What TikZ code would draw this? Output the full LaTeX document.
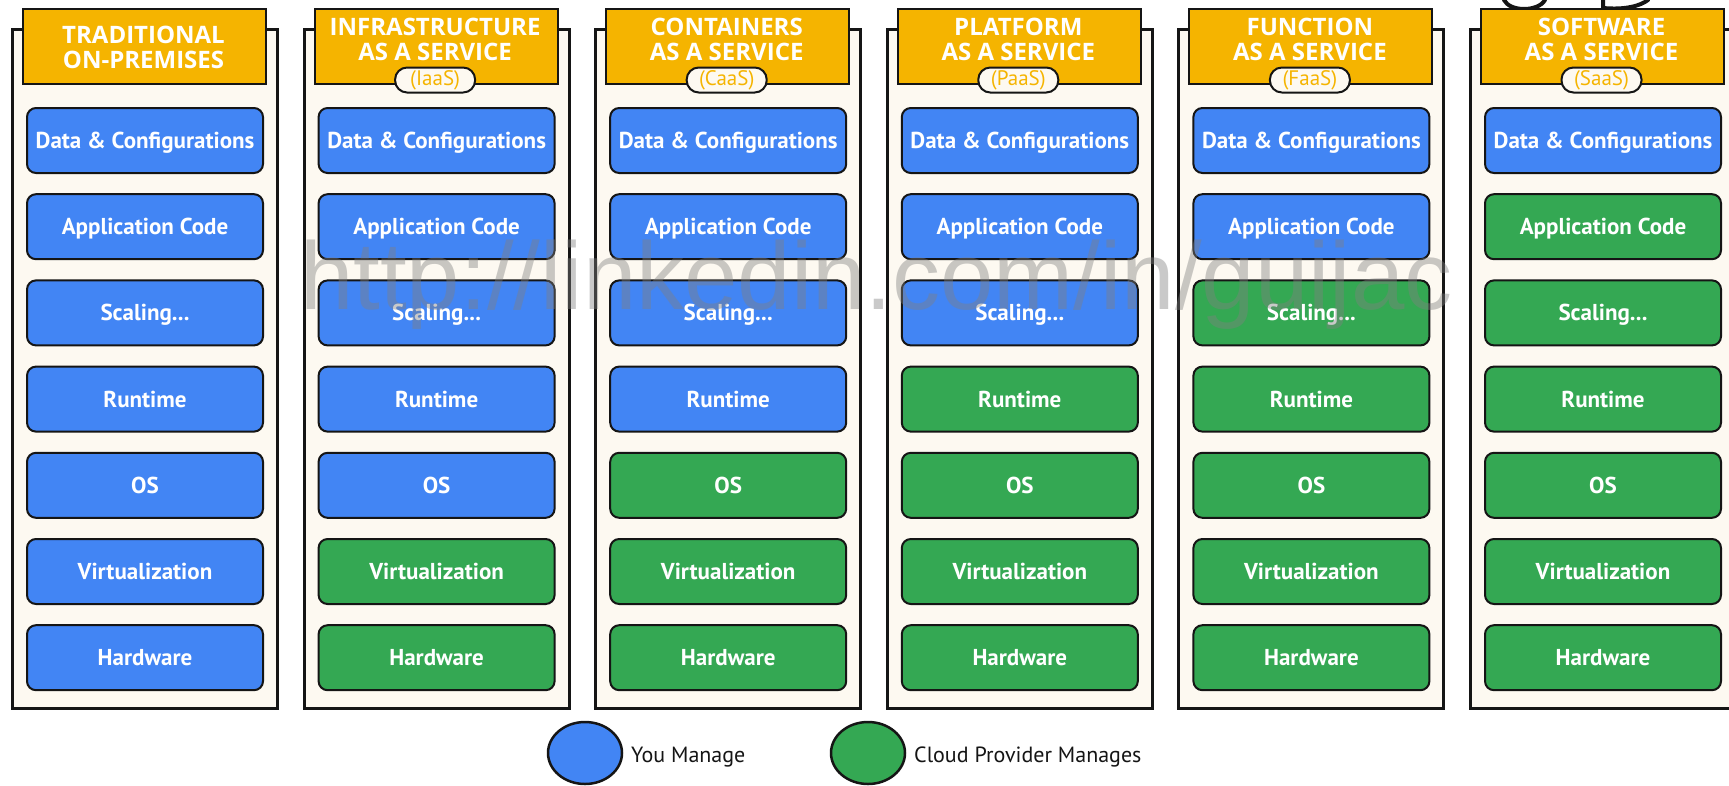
\documentclass[tikz,border=0pt]{standalone}
\usepackage{fontspec}
\setmainfont{PT Sans}
\newfontfamily\headfont{Open Sans}
\newfontfamily\markfont{Liberation Sans}
\usetikzlibrary{shapes.geometric}
\definecolor{cblue}{HTML}{4285F4}
\definecolor{cgreen}{HTML}{34A853}
\definecolor{cyellow}{HTML}{F5B400}
\definecolor{ccream}{HTML}{FDF9F1}
\definecolor{cink}{HTML}{151515}
\tikzset{
  colframe/.style={draw=cink, line width=3pt, fill=ccream, inner sep=0pt,
    minimum width=265pt, minimum height=679pt, anchor=north west},
  headbox/.style={draw=cink, line width=2pt, fill=cyellow, inner sep=0pt,
    minimum width=243pt, minimum height=75pt, anchor=north west},
  headtext/.style={anchor=base, inner sep=0pt, text=white,
    font=\headfont\bfseries\fontsize{24}{25}\selectfont},
  pill/.style={draw=cink, line width=2pt, fill=ccream, rounded corners=12pt,
    minimum width=80pt, minimum height=25pt, inner sep=0pt, text=cyellow,
    font=\fontsize{21}{21}\selectfont},
  layer/.style={draw=cink, line width=2pt, rounded corners=9pt,
    minimum width=236pt, minimum height=65pt, inner sep=0pt, text=white,
    text height=20pt, text depth=4pt, anchor=north west,
    font=\bfseries\fontsize{23}{23}\selectfont},
  legdot/.style={ellipse, draw=cink, line width=2.5pt, minimum width=74pt,
    minimum height=62pt, inner sep=0pt},
  legtext/.style={anchor=base west, inner sep=0pt, text=cink,
    font=\fontsize{22}{22}\selectfont},
  wmtext/.style={anchor=base west, inner sep=0pt, text=gray, opacity=0.42,
    font=\markfont\fontsize{96}{96}\selectfont},
}
\begin{document}
\begin{tikzpicture}[x=1pt,y=-1pt]
\useasboundingbox (0,0) rectangle (1729,785);
\clip (0,0) rectangle (1729,785);
\fill[white] (0,0) rectangle (1729,785);

% partial strokes at the top right
\draw[cink, line width=4pt, line cap=round] (1504,0) .. controls (1510,12) and (1538,12) .. (1545,0);
\draw[cink, line width=4pt, line cap=round] (1603,0) -- (1603,8) .. controls (1625,10) and (1640,6) .. (1648,0);

% columns
\foreach \k/\nb in {0/7,1/5,2/4,3/3,4/2,5/1}{
  \pgfmathsetmacro\dx{291.6*\k}
  \node[colframe] (F\k) at (11+\dx,28) {};
  \node[headbox] (H\k) at (22+\dx,8) {};
  \foreach \i/\t in {0/{Data \& Configurations},1/{Application Code},2/{Scaling...},3/{Runtime},4/{OS},5/{Virtualization},6/{Hardware}}{
    \pgfmathsetmacro\yy{107+86.2*\i}
    \ifnum\i<\nb \def\fc{cblue}\else\def\fc{cgreen}\fi
    \node[layer, fill=\fc] (L\k-\i) at (26+\dx,\yy) {\t};
  }
}

% header texts
\node[headtext] (T0a) at (143.5,43) {TRADITIONAL};
\node[headtext] (T0b) at (143.5,68) {ON-PREMISES};
\foreach \k/\ta/\ab in {1/INFRASTRUCTURE/IaaS,2/CONTAINERS/CaaS,3/PLATFORM/PaaS,4/FUNCTION/FaaS,5/SOFTWARE/SaaS}{
  \pgfmathsetmacro\cx{143.5+291.6*\k}
  \node[headtext] (T\k a) at (\cx,35) {\ta};
  \node[headtext] (T\k b) at (\cx,60) {AS A SERVICE};
  \node[pill] (P\k) at (\cx,80) {(\ab)};
}

% legend
\node[legdot, fill=cblue] (LB) at (585,753) {};
\node[legtext] (LBt) at (631,762) {You Manage};
\node[legdot, fill=cgreen] (LG) at (868,753) {};
\node[legtext] (LGt) at (914,762) {Cloud Provider Manages};

% watermark
\node[wmtext] (WM) at (300,309) {http://linkedin.com/in/guijac};
\end{tikzpicture}
\end{document}
